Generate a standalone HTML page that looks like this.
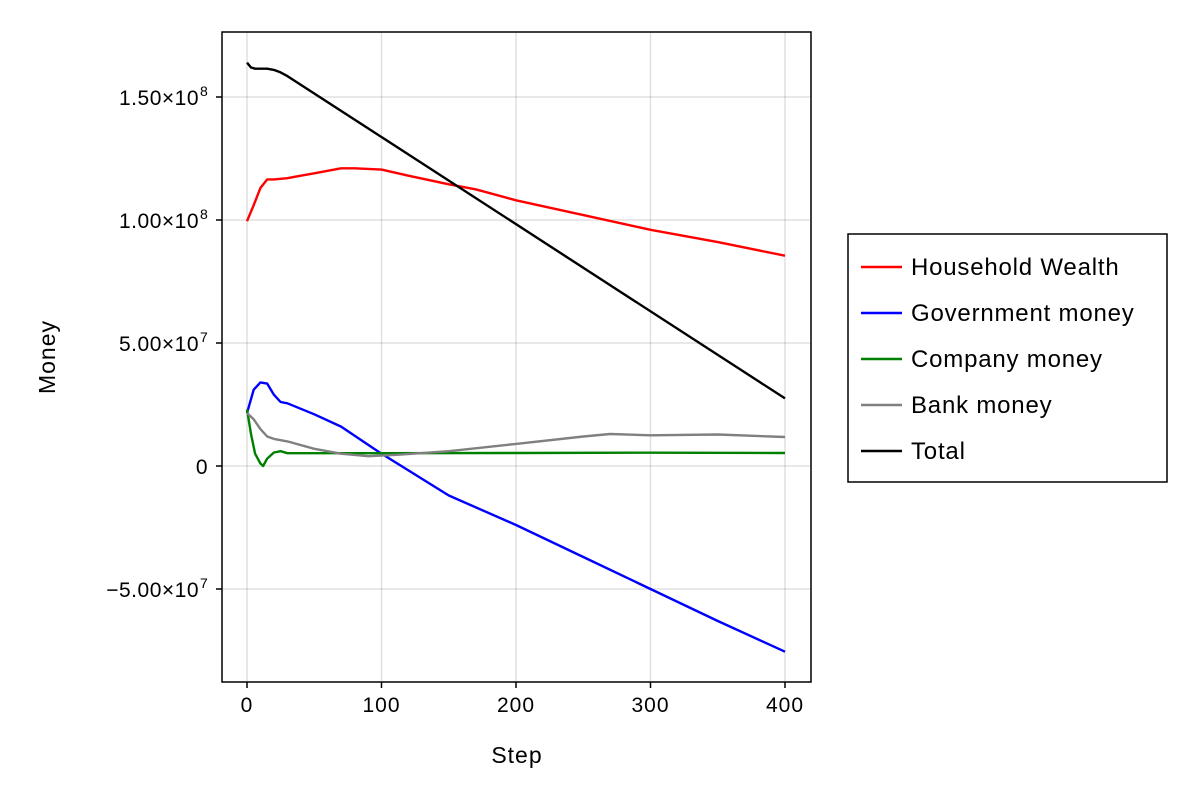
<!DOCTYPE html>
<html><head><meta charset="utf-8"><style>
body{margin:0;background:#fff;}
svg text{font-family:"Liberation Sans",sans-serif;fill:#000;}
</style></head><body>
<svg id="chart" width="1200" height="800" viewBox="0 0 1200 800">
<rect x="0" y="0" width="1200" height="800" fill="#fff"/>
<g id="grid"></g>
<g id="series"></g>
<rect x="222" y="32" width="589" height="650" fill="none" stroke="#000" stroke-width="1.5"/>
<g id="ticks"></g>
<text x="517" y="763" font-size="23" letter-spacing="1" text-anchor="middle">Step</text>
<text transform="translate(55,357) rotate(-90)" font-size="23" letter-spacing="1" text-anchor="middle">Money</text>
<g id="legend"></g>
</svg>
<script>
const xTicks=[0,100,200,300,400];
const yTicks=[-50,0,50,100,150];
const yTickLabels=["\u22125.00\u00d710","0","5.00\u00d710","1.00\u00d710","1.50\u00d710"];
const yTickExp=["7","","7","8","8"];
const seriesNames=["Household Wealth","Government money","Company money","Bank money","Total"];
const seriesColors=["#ff0000","#0000ff","#008000","#808080","#000000"];
const householdSteps=[0,5,10,15,20,30,40,50,60,70,80,100,120,150,170,200,250,300,350,400];
const householdVals=[99.5,106,113,116.5,116.5,117,118,119,120,121,121,120.5,118,114.5,112.5,108,102,96,91,85.5];
const govSteps=[0,5,10,15,20,25,30,50,70,100,150,200,250,300,350,400];
const govVals=[21.5,31,34,33.5,29,26,25.5,21,16,5,-12,-24,-37,-50,-63,-75.5];
const companySteps=[0,3,6,10,12,15,20,25,30,100,200,300,400];
const companyVals=[23,13,5,1,0,3,5.5,6,5.2,5.2,5.3,5.4,5.3];
const bankSteps=[0,5,10,15,20,30,50,70,90,110,150,200,250,270,300,350,400];
const bankVals=[21.5,19,15,12,11,10,7,5,4,4.5,6,9,12,13,12.5,12.8,11.8];
const totalSteps=[0,3,6,10,15,20,25,30,400];
const totalVals=[164,162,161.5,161.5,161.5,161,160,158.5,27.5];
const allSeries=[[householdSteps,householdVals],[govSteps,govVals],[companySteps,companyVals],[bankSteps,bankVals],[totalSteps,totalVals]];
const NS="http://www.w3.org/2000/svg";
const X=s=>247+s*1.345;
const Y=v=>466-v*2.46;
function mk(t,a,p){const e=document.createElementNS(NS,t);for(const k in a)e.setAttribute(k,a[k]);p.appendChild(e);return e;}
const grid=document.getElementById('grid'),ticks=document.getElementById('ticks'),ser=document.getElementById('series'),leg=document.getElementById('legend');
xTicks.forEach(t=>{
 const l=mk('line',{x1:X(t),x2:X(t),y1:32,y2:682,stroke:'#000','stroke-opacity':0.12,'stroke-width':1.5},grid);
 
 const k=mk('line',{x1:X(t),x2:X(t),y1:682,y2:688,stroke:'#000','stroke-width':1.5},ticks);
 
 const tx=mk('text',{x:X(t),y:712,'font-size':21,'letter-spacing':1,'text-anchor':'middle'},ticks);tx.textContent=t;
 
});
yTicks.forEach((t,i)=>{
 const l=mk('line',{x1:222,x2:811,y1:Y(t),y2:Y(t),stroke:'#000','stroke-opacity':0.12,'stroke-width':1.5},grid);
 
 const k=mk('line',{x1:216,x2:222,y1:Y(t),y2:Y(t),stroke:'#000','stroke-width':1.5},ticks);
 
 const tx=mk('text',{x:yTickExp[i]?199:208,y:Y(t)+8,'font-size':21,'letter-spacing':0.5,'text-anchor':'end'},ticks);
 
 tx.textContent=yTickLabels[i];
 if(yTickExp[i]){const s=mk('text',{x:200,y:Y(t)-1,'font-size':14},ticks);s.textContent=yTickExp[i];
 }
});
allSeries.forEach((sd,i)=>{
 const pts=sd[0].map((s,j)=>X(s).toFixed(1)+','+Y(sd[1][j]).toFixed(1)).join(' ');
 const p=mk('polyline',{points:pts,fill:'none',stroke:seriesColors[i],'stroke-width':2.4,'stroke-linejoin':'round'},ser);
 
});
const box=mk('rect',{x:848,y:234,width:319,height:248,fill:'#fff',stroke:'#000','stroke-width':1.5},leg);

seriesNames.forEach((n,i)=>{
 const y=267+i*46;
 const l=mk('line',{x1:861,x2:902,y1:y,y2:y,stroke:seriesColors[i],'stroke-width':2.4},leg);
 
 const t=mk('text',{x:911,y:y+8,'font-size':24,'letter-spacing':0.8},leg);t.textContent=n;
 
});
</script>
</body></html>
